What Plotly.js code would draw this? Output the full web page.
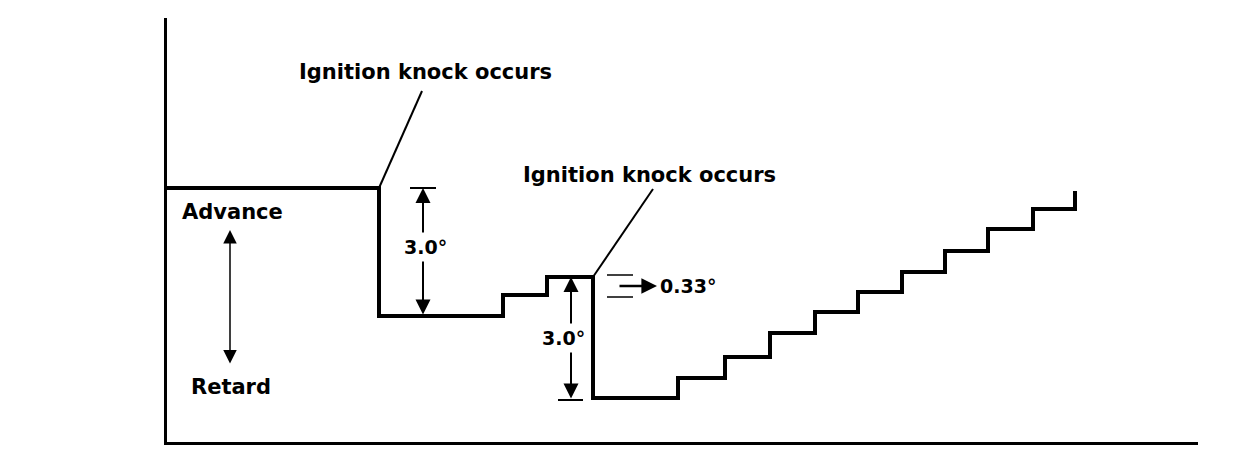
<!DOCTYPE html>
<html>
<head>
<meta charset="utf-8">
<script src="https://cdn.plot.ly/plotly-3.0.1.min.js"></script>
<style>html,body{margin:0;padding:0;background:#fff;}#chart{width:1248px;height:468px;}</style>
</head>
<body>
<div id="chart"></div>
<script>
// Step sequence of ignition timing (arbitrary time units vs. arbitrary timing units)
const timeX  = [0, 214, 338, 382, 428, 513, 560, 605, 650, 693, 737, 780, 823, 868, 910];
const timing = [256, 128, 149, 167, 46, 66, 87, 111, 132, 152, 172, 193, 215, 235, 253];

const labelKnock = 'Ignition knock occurs';
const labelStep = '0.33°';
const labelDrop = '3.0°';

const F = 'DejaVu Sans, Arial, sans-serif';
const txt = (s) => '<b>' + s + '</b>';

const trace = {
  x: timeX, y: timing, type: 'scatter', mode: 'lines',
  line: {shape: 'hv', color: '#000', width: 4},
  hoverinfo: 'skip', showlegend: false
};

const arrow = (x, y, ax, ay, both, w, sz) => ({
  x: x, y: y, ax: ax, ay: ay, xref: 'x', yref: 'y', axref: 'x', ayref: 'y',
  text: '', showarrow: true, arrowhead: 2, startarrowhead: 2,
  arrowsize: sz || 1.5, startarrowsize: sz || 1.5,
  arrowwidth: w || 1.8, arrowcolor: '#000', arrowside: both ? 'end+start' : 'end'
});

const label = (x, y, s, size, extra) => Object.assign({
  x: x, y: y, xref: 'x', yref: 'y', text: txt(s), showarrow: false,
  font: {family: F, size: size, color: '#000'}
}, extra || {});

const line = (x0, y0, x1, y1, w) => ({
  type: 'line', xref: 'x', yref: 'y', x0: x0, y0: y0, x1: x1, y1: y1,
  line: {color: '#000', width: w || 2}
});

const layout = {
  width: 1248, height: 468,
  margin: {l: 167, r: 50, t: 18, b: 26},
  paper_bgcolor: '#fff', plot_bgcolor: '#fff',
  xaxis: {range: [2, 1033], showline: true, linewidth: 3, linecolor: '#000',
          showgrid: false, zeroline: false, showticklabels: false, ticks: '', fixedrange: true},
  yaxis: {range: [2, 426], showline: true, linewidth: 3, linecolor: '#000',
          showgrid: false, zeroline: false, showticklabels: false, ticks: '', fixedrange: true},
  shapes: [
    line(257, 353, 214, 256, 2),
    line(488, 255, 428, 167, 2),
    line(245, 256, 271, 256, 2),
    line(393, 44, 418, 44, 2),
    line(442, 169, 468, 169, 1.5),
    line(442, 147, 468, 147, 1.5)
  ],
  annotations: [
    label(260, 372, labelKnock, 21),
    label(484, 269, labelKnock, 21),
    label(-90, 189, 'Ignition<br>timing', 21),
    label(67, 232, 'Advance', 21),
    label(66, 57, 'Retard', 21),
    arrow(65, 214, 65, 79, true, 1.5, 1.8),
    arrow(258, 256, 258, 128, true, 2),
    label(260, 197, labelDrop, 19, {bgcolor: '#fff', borderpad: 3}),
    arrow(406, 167, 406, 44, true, 2),
    label(398, 106, labelDrop, 19, {bgcolor: '#fff', borderpad: 3}),
    arrow(492, 158, 453, 158, false, 2.6, 1.2),
    label(493, 158, labelStep, 19, {xanchor: 'left'})
  ]
};

Plotly.newPlot('chart', [trace], layout, {staticPlot: true, displayModeBar: false});
</script>
</body>
</html>
